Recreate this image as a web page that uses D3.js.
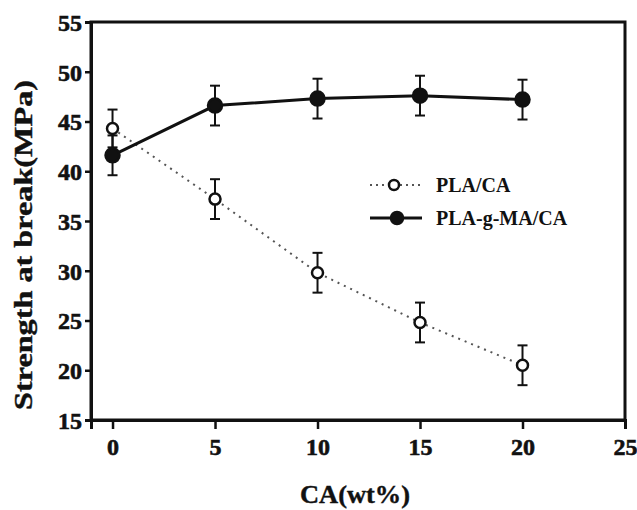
<!DOCTYPE html>
<html><head><meta charset="utf-8">
<script src="https://cdn.jsdelivr.net/npm/d3@7"></script>
<style>body{margin:0;background:#fff}svg{display:block}text{font-family:"Liberation Serif","Times New Roman",serif;font-weight:bold}</style>
</head><body><svg id="c" width="637" height="510"></svg>
<script>
const caContent = [0, 5, 10, 15, 20];
const plaCA = [44.3, 37.2, 29.8, 24.8, 20.5];
const plaCAErr = [1.9, 2.0, 2.0, 2.0, 2.0];
const plaMA = [41.6, 46.6, 47.3, 47.6, 47.2];
const plaMAErr = [2.0, 2.0, 2.0, 2.0, 2.0];
const xTicks = [0, 5, 10, 15, 20, 25];
const yTicks = [15, 20, 25, 30, 35, 40, 45, 50, 55];
const seriesNames = ["PLA/CA", "PLA-g-MA/CA"];

const svg = d3.select("#c");
const L = 91, R = 625, T = 22, B = 420;
const x = d3.scaleLinear().domain([-1.05, 25]).range([L, R]);
const y = d3.scaleLinear().domain([15, 55]).range([B, T]);

// frame
svg.append("rect").attr("x", L).attr("y", T).attr("width", R - L).attr("height", B - T)
  .attr("fill", "none").attr("stroke", "#111").attr("stroke-width", 3);

const yAxis = svg.append("g").attr("transform", `translate(${L},0)`)
  .call(d3.axisLeft(y).tickValues(yTicks).tickSize(6).tickPadding(3).tickFormat(d3.format("d")));
const xAxis = svg.append("g").attr("transform", `translate(0,${B})`)
  .call(d3.axisBottom(x).tickValues(xTicks).tickSize(9).tickPadding(9).tickFormat(d3.format("d")));
[yAxis, xAxis].forEach(a => {
  a.attr("font-family", null).attr("font-size", null);
  a.select(".domain").attr("stroke", "#111").attr("stroke-width", 3);
  a.selectAll(".tick line").attr("stroke", "#111").attr("stroke-width", 2.5);
  a.selectAll(".tick text").attr("fill", "#111").attr("stroke", "#111").attr("stroke-width", 0.6)
    .style("font-size", "24px")
    .style("font-family", '"Liberation Serif",serif').style("font-weight", "bold");
});
yAxis.selectAll(".tick text").attr("dy", "0.35em");

// axis titles
svg.append("text").attr("x", 355).attr("y", 503).attr("text-anchor", "middle")
  .style("font-size", "26px").attr("textLength", 110).attr("lengthAdjust", "spacingAndGlyphs")
  .attr("fill", "#111").attr("stroke", "#111").attr("stroke-width", 0.4).text("CA(wt%)");
svg.append("text").attr("transform", "translate(32,245) rotate(-90)").attr("text-anchor", "middle")
  .style("font-size", "26px").attr("textLength", 330).attr("lengthAdjust", "spacingAndGlyphs")
  .attr("fill", "#111").attr("stroke", "#111").attr("stroke-width", 0.4).text("Strength at break(MPa)");

function drawSeries(vals, errs, filled, dashed) {
  const pts = caContent.map((c, i) => ({c, v: vals[i], e: errs[i]}));
  const g = svg.append("g");
  g.append("path").datum(pts)
    .attr("d", d3.line().x(d => x(d.c)).y(d => y(d.v)))
    .attr("fill", "none").attr("stroke", dashed ? "#555" : "#111")
    .attr("stroke-width", dashed ? 2 : 3)
    .attr("stroke-dasharray", dashed ? "2,5" : null);
  const eb = g.selectAll(".eb").data(pts).enter().append("g");
  eb.append("line").attr("x1", d => x(d.c)).attr("x2", d => x(d.c))
    .attr("y1", d => y(d.v + d.e)).attr("y2", d => y(d.v - d.e)).attr("stroke", "#111").attr("stroke-width", 2);
  [1, -1].forEach(s => eb.append("line").attr("x1", d => x(d.c) - 5).attr("x2", d => x(d.c) + 5)
    .attr("y1", d => y(d.v + s * d.e)).attr("y2", d => y(d.v + s * d.e)).attr("stroke", "#111").attr("stroke-width", 2));
  g.selectAll(".pt").data(pts).enter().append("circle")
    .attr("cx", d => x(d.c)).attr("cy", d => y(d.v)).attr("r", filled ? 7 : 5.5)
    .attr("fill", filled ? "#111" : "#fff").attr("stroke", "#111").attr("stroke-width", 2.5);
}
drawSeries(plaCA, plaCAErr, false, true);
drawSeries(plaMA, plaMAErr, true, false);

// legend
const lg = svg.append("g");
seriesNames.forEach((name, i) => {
  const ly = 185 + i * 33;
  const filled = i === 1;
  lg.append("line").attr("x1", 370).attr("x2", 422).attr("y1", ly).attr("y2", ly)
    .attr("stroke", filled ? "#111" : "#555").attr("stroke-width", filled ? 3 : 2)
    .attr("stroke-dasharray", filled ? null : "2,4");
  lg.append("circle").attr("cx", filled ? 397 : 394).attr("cy", ly).attr("r", filled ? 6 : 5)
    .attr("fill", filled ? "#111" : "#fff").attr("stroke", "#111").attr("stroke-width", 2.5);
  lg.append("text").attr("x", 436).attr("y", ly).attr("dy", "0.35em")
    .style("font-size", "20px").attr("fill", "#111").text(name);
});
</script></body></html>
